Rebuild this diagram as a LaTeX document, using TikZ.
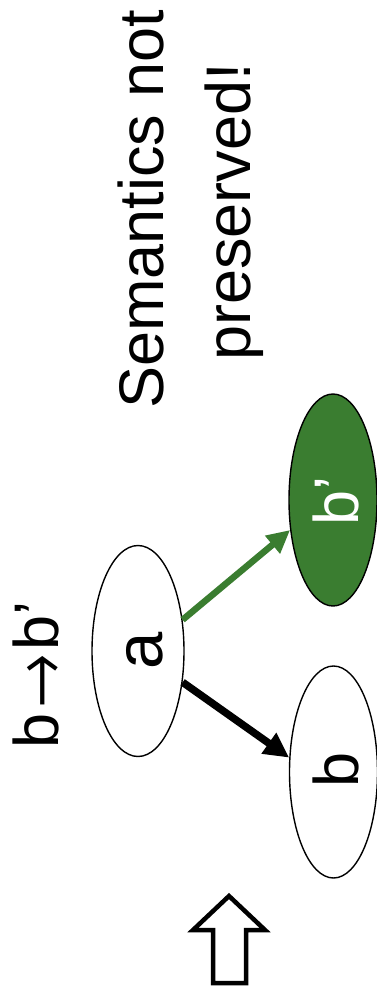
\documentclass[tikz,border=0pt]{standalone}
\usepackage{fontspec}
\setmainfont{Liberation Sans}
\newfontfamily\arrowfont{TeX Gyre Heros}
\usetikzlibrary{arrows.meta,shapes.geometric}
\definecolor{leaf}{RGB}{58,125,48}
\begin{document}
\begin{tikzpicture}[x=1pt,y=-1pt,
  oval/.style={ellipse,draw=black,line width=1.4pt,minimum width=88pt,minimum height=212pt,inner sep=0pt},
  bigtext/.style={rotate=90,anchor=base,inner sep=0pt,font=\fontsize{63}{75}\selectfont},
  edge/.style={line width=7.5pt,-{Triangle[length=25pt,width=24pt]}}]
\useasboundingbox (0,0) rectangle (377,1002);
% ellipses
\node[oval,minimum width=92pt,minimum height=211pt] (a) at (138,651) {};
\node[oval] (b) at (333.5,772) {};
\node[oval,fill=leaf] (bp) at (333,500) {};
% labels
\node[bigtext,font=\fontsize{67}{75}\selectfont] (ta) at (162,651) {a};
\node[bigtext] (tb) at (358,770) {b};
\node[bigtext,text=white] (tbp) at (358,501) {b’};
\node[bigtext] (rule) at (58,675) {b{\arrowfont →}b’};
\node[bigtext] (t1) at (163,209) {Semantics not};
\node[bigtext] (t2) at (250,212) {preserved!};
% connectors
\draw[edge,black] (a.-35) -- (b.162);
\draw[edge,leaf,line width=6.5pt,-{Triangle[length=23pt,width=22pt]}] (a.35) -- (bp.215);
% block arrow
\draw[line width=4.5pt,line join=miter] (229,896) -- (265,930) -- (246,930) -- (246,983) -- (213,983) -- (213,930) -- (193,930) -- cycle;
\end{tikzpicture}
\end{document}
